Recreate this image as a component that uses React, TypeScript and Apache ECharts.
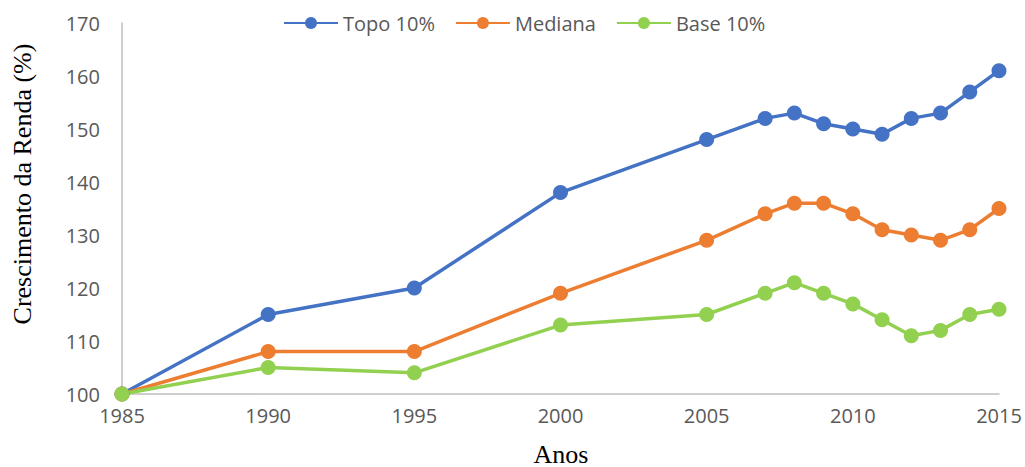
import React, { useEffect, useRef } from "react";
import * as echarts from "echarts";

const years = [1985, 1990, 1995, 2000, 2005, 2007, 2008, 2009, 2010, 2011, 2012, 2013, 2014, 2015];
const topo = [100, 115, 120, 138, 148, 152, 153, 151, 150, 149, 152, 153, 157, 161];
const mediana = [100, 108, 108, 119, 129, 134, 136, 136, 134, 131, 130, 129, 131, 135];
const base = [100, 105, 104, 113, 115, 119, 121, 119, 117, 114, 111, 112, 115, 116];
const seriesNames = ["Topo 10%", "Mediana", "Base 10%"];
const colors = ["#4472C4", "#ED7D31", "#92D050"];

export default function App() {
  const ref = useRef<HTMLDivElement>(null);
  useEffect(() => {
    if (!ref.current) return;
    const chart = echarts.init(ref.current, null, { renderer: "svg" });
    const datasets = [topo, mediana, base];
    chart.setOption({
      animation: false,
      grid: { left: 122, right: 26, top: 23, bottom: 73 },
      legend: {
        top: 8,
        left: 278,
        itemWidth: 54,
        itemHeight: 15,
        itemGap: 20,
        textStyle: { fontFamily: "Open Sans", fontSize: 20, color: "#595959" },
        data: seriesNames,
      },
      xAxis: {
        type: "value",
        min: 1985,
        max: 2015,
        interval: 5,
        splitLine: { show: false },
        axisTick: { show: false },
        axisLine: { lineStyle: { color: "#BFBFBF", width: 1.5 } },
        axisLabel: {
          formatter: (v: number) => String(v),
          fontFamily: "Open Sans",
          fontSize: 20,
          color: "#595959",
          margin: 11,
        },
      },
      yAxis: {
        type: "value",
        min: 100,
        max: 170,
        interval: 10,
        splitLine: { show: false },
        axisTick: { show: false },
        axisLine: { show: true, lineStyle: { color: "#BFBFBF", width: 1.5 } },
        axisLabel: {
          fontFamily: "Open Sans",
          fontSize: 20,
          color: "#595959",
          margin: 22,
        },
      },
      graphic: [
        {
          type: "text",
          x: 22,
          y: 184,
          rotation: Math.PI / 2,
          style: {
            text: "Crescimento da Renda (%)",
            font: "26px 'Liberation Serif'",
            fill: "#000",
            align: "center",
            verticalAlign: "middle",
          },
        },
        {
          type: "text",
          x: 561,
          y: 454,
          style: {
            text: "Anos",
            font: "26px 'Liberation Serif'",
            fill: "#000",
            align: "center",
            verticalAlign: "middle",
          },
        },
      ],
      series: seriesNames.map((name, i) => ({
        name,
        type: "line",
        data: years.map((y, j) => [y, datasets[i][j]]),
        symbol: "circle",
        symbolSize: 15,
        lineStyle: { width: 3.5, color: colors[i] },
        itemStyle: { color: colors[i] },
      })),
    });
    return () => chart.dispose();
  }, []);
  return <div ref={ref} style={{ width: 1025, height: 467, position: "absolute", left: 0, top: 0 }} />;
}
